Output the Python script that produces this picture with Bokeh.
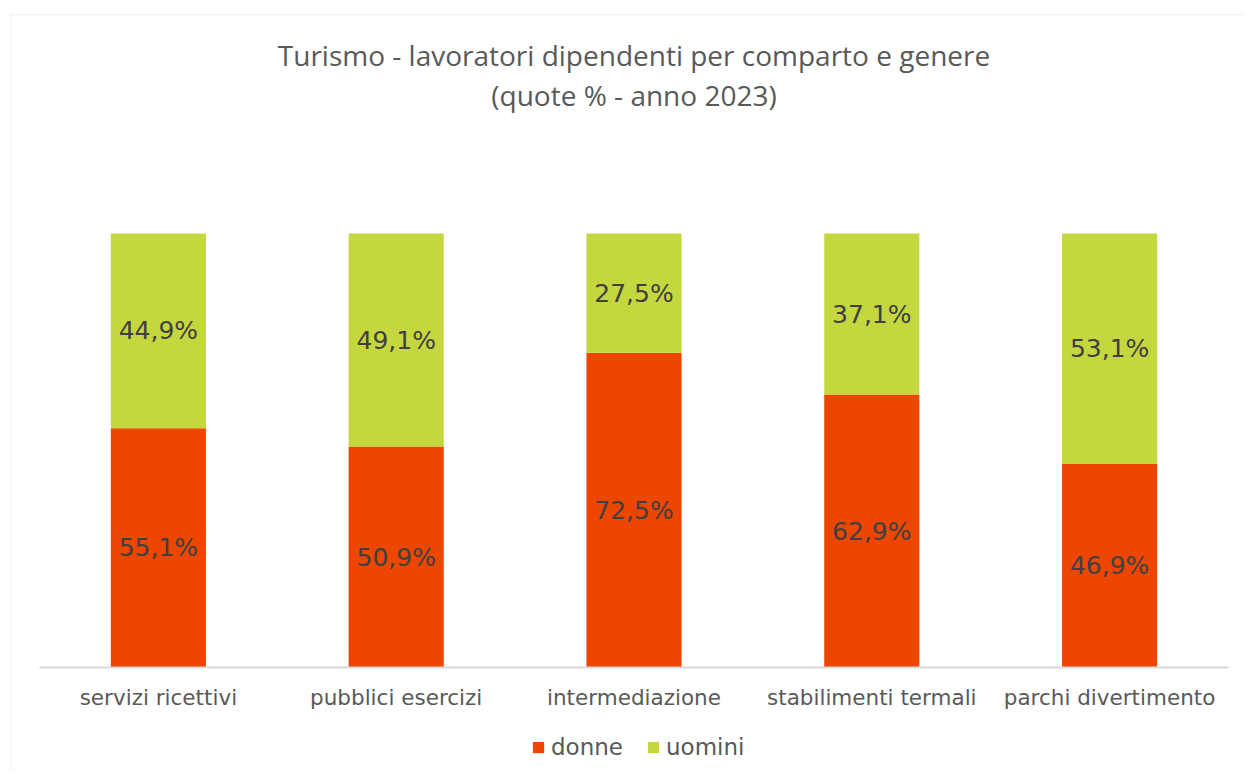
from bokeh.plotting import figure
from bokeh.models import (ColumnDataSource, Range1d, Label, Legend, LegendItem,
                          LabelSet, BoxAnnotation, FixedTicker)
from bokeh.core.properties import value
from bokeh.embed import file_html
from bokeh.resources import INLINE

# ---- data ----
categories = ["servizi ricettivi", "pubblici esercizi", "intermediazione",
              "stabilimenti termali", "parchi divertimento"]
donne = [55.1, 50.9, 72.5, 62.9, 46.9]
uomini = [44.9, 49.1, 27.5, 37.1, 53.1]
series_names = ["donne", "uomini"]
title_line1 = "Turismo - lavoratori dipendenti per comparto e genere"
title_line2 = "(quote % - anno 2023)"

# ---- styles / layout ----
colors = ["#ED4601", "#C5D73E"]
TITLE_FONT = "Open Sans"
FONT = "DejaVu Sans"
FIG_W = 1245         # canvas width (px)
FIG_H = 770          # canvas height (px)
AXIS_LEFT_PX = 39    # where the category axis starts
AXIS_RIGHT_PX = 1228 # where the category axis ends
AXIS_PX = 667        # pixel row of the value 0 (axis line)
PX_PER_UNIT = 4.34   # pixels per percentage point
TITLE1_PX = 54
TITLE2_PX = 94

n = len(categories)
px_per_cat = (AXIS_RIGHT_PX - AXIS_LEFT_PX) / n


def fmt(v):
    return f"{v:.1f}".replace(".", ",") + "%"


def to_y(px):
    return (AXIS_PX - px) / PX_PER_UNIT


def to_x(px):
    return (px - AXIS_LEFT_PX) / px_per_cat


xpos = [i + 0.5 for i in range(n)]
top_u = [d + u for d, u in zip(donne, uomini)]
src = ColumnDataSource(dict(
    x=xpos,
    cat=categories,
    donne=donne,
    uomini=uomini,
    top_u=top_u,
    mid_d=[d / 2 for d in donne],
    mid_u=[d + u / 2 for d, u in zip(donne, uomini)],
    lab_d=[fmt(v) for v in donne],
    lab_u=[fmt(v) for v in uomini],
))

p = figure(x_range=Range1d(to_x(0), to_x(FIG_W)),
           y_range=Range1d(to_y(FIG_H), to_y(0)),
           frame_width=FIG_W, frame_height=FIG_H,
           output_backend="svg", toolbar_location=None,
           min_border_left=0, min_border_right=0, min_border_top=0,
           min_border_bottom=0)
p.title = None

r_d = p.vbar(x="x", bottom=0, top="donne", width=0.4, source=src,
             fill_color=colors[0], line_color=None)
r_u = p.vbar(x="x", bottom="donne", top="top_u", width=0.4, source=src,
             fill_color=colors[1], line_color=None)

for ycol, tcol in (("mid_d", "lab_d"), ("mid_u", "lab_u")):
    p.add_layout(LabelSet(x="x", y=ycol, text=tcol, source=src,
                          text_align="center", text_baseline="middle",
                          text_font=value(FONT), text_font_size=value("25px"),
                          text_color="#404040"))

# chart title (two centred lines)
for txt, px in ((title_line1, TITLE1_PX), (title_line2, TITLE2_PX)):
    p.add_layout(Label(x=n / 2, y=to_y(px), text=txt,
                       text_align="center", text_baseline="middle",
                       text_font=TITLE_FONT, text_font_size="28px",
                       text_color="#595959"))

# chart-area border (light grey, top and left visible)
p.add_layout(BoxAnnotation(left=10, right=1400, top=14, bottom=1200,
                           left_units="canvas", right_units="canvas",
                           top_units="canvas", bottom_units="canvas",
                           fill_alpha=0, line_color="#D9D9D9", line_width=2))

# axes / grid
p.yaxis.visible = False
p.xgrid.visible = False
p.ygrid.visible = False
p.outline_line_color = None
p.xaxis.fixed_location = 0
p.xaxis.bounds = (0, n)
p.xaxis.ticker = FixedTicker(ticks=xpos)
p.xaxis.major_label_overrides = {x: c for x, c in zip(xpos, categories)}
p.xaxis.axis_line_color = "#D9D9D9"
p.xaxis.axis_line_width = 2
p.xaxis.major_tick_line_color = None
p.xaxis.minor_tick_line_color = None
p.xaxis.major_label_standoff = 11
p.xaxis.major_label_text_font = FONT
p.xaxis.major_label_text_font_size = "21.5px"
p.xaxis.major_label_text_color = "#595959"

legend = Legend(items=[LegendItem(label=series_names[0], renderers=[r_d]),
                       LegendItem(label=series_names[1], renderers=[r_u])],
                orientation="horizontal", location=(531, 10),
                border_line_color=None, background_fill_alpha=0,
                label_text_font=FONT, label_text_font_size="23px",
                label_text_color="#595959", glyph_width=14, glyph_height=14,
                label_standoff=6, spacing=23, padding=0, margin=0)
p.add_layout(legend, "center")

open("out.html", "w").write(file_html(p, INLINE))
